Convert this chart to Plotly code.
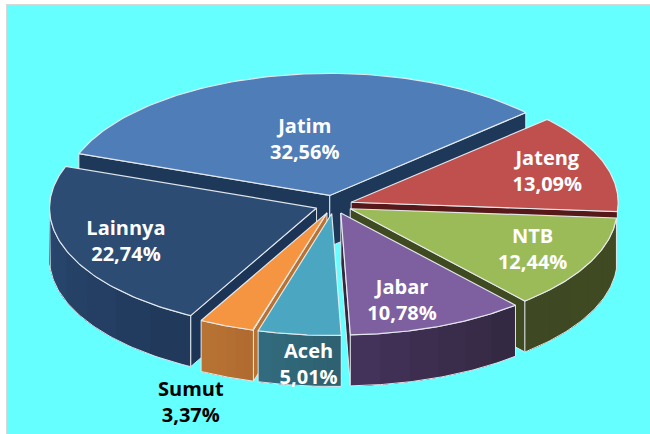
import math
import plotly.graph_objects as go

categories = ["Jatim", "Jateng", "NTB", "Jabar", "Aceh", "Sumut", "Lainnya"]
values = [32.56, 13.09, 12.44, 10.78, 5.01, 3.37, 22.74]
value_labels = ["32,56%", "13,09%", "12,44%", "10,78%", "5,01%", "3,37%", "22,74%"]
pulls = [0.08, 0.068, 0.068, 0.07, 0.07, 0.07, 0.07]

TOP = {"Jatim": "#4F7DB8", "Jateng": "#BF504D", "NTB": "#9BBB59", "Jabar": "#7E60A0",
       "Aceh": "#4BA6C2", "Sumut": "#F59542", "Lainnya": "#2C4C74"}
CUT = {"Jatim": "#1D3859", "Jateng": "#57181A", "NTB": "#3F4A21", "Jabar": "#33293F",
       "Aceh": "#2F6475", "Sumut": "#B9722F", "Lainnya": "#1C3557"}
WALL_A = {"Jatim": "#1D3859", "Jateng": "#57181A", "NTB": "#404A22", "Jabar": "#322840",
          "Aceh": "#2E6070", "Sumut": "#B06A30", "Lainnya": "#203859"}
WALL_B = {"Jatim": "#1D3859", "Jateng": "#57181A", "NTB": "#3E4822", "Jabar": "#45335C",
          "Aceh": "#326C7E", "Sumut": "#B87434", "Lainnya": "#294870"}
LABEL_PLACE = {"Jatim": (0.455, -0.5), "Jateng": (0.774, 0.9), "NTB": (0.765, 0), "Jabar": (0.765, 4),
               "Aceh": (1.25, -3.0), "Sumut": (1.645, -4), "Lainnya": (0.77, -1.1)}
DRAW_ORDER = ["Jatim", "Jateng", "Lainnya", "NTB", "Jabar", "Sumut", "Aceh"]

CX, CY, RX, RY, DEPTH, START = 334, 205, 267, 122, 51, -70
DEPTH_OF = {"Jateng": 10}  # the rest of this wall sits behind its neighbour
EDGE = "rgba(232,236,240,0.95)"


def polar(a, r=1.0):
    t = math.radians(a)
    return RX * r * math.sin(t), -RY * r * math.cos(t)


def mix(c1, c2, f):
    p = [int(c1[i:i + 2], 16) for i in (1, 3, 5)]
    q = [int(c2[i:i + 2], 16) for i in (1, 3, 5)]
    return "rgb(%d,%d,%d)" % tuple(round(a + (b - a) * f) for a, b in zip(p, q))


fig = go.Figure()


def poly(xs, ys, fill, line=None, width=1.0):
    fig.add_trace(go.Scatter(
        x=list(xs) + [xs[0]], y=list(ys) + [ys[0]], mode="lines", fill="toself", fillcolor=fill,
        line=dict(color=line or fill, width=width), hoverinfo="skip", showlegend=False))


total = sum(values)
slices = {}
angle = START
for c, v, p in zip(categories, values, pulls):
    sweep = 360 * v / total
    mid = angle + sweep / 2
    ox, oy = polar(mid, p)
    slices[c] = dict(a0=angle, a1=angle + sweep, mid=mid, tx=CX + ox, ty=CY + oy)
    angle += sweep

for c in DRAW_ORDER:
    s = slices[c]
    tx, ty, a0, a1 = s["tx"], s["ty"], s["a0"], s["a1"]
    depth = DEPTH_OF.get(c, DEPTH)
    # radial cut faces
    for a, is_start in ((a0, True), (a1, False)):
        dx, dy = polar(a)
        if (is_start and dx < 0) or (not is_start and dx > 0):
            poly([tx, tx + dx, tx + dx, tx], [ty, ty + dy, ty + dy + depth, ty + depth], CUT[c], EDGE, 1)
    # outer curved wall, lower half only
    w0, w1 = max(a0, 90), min(a1, 270)
    if w1 > w0 and c not in DEPTH_OF:
        n = 6
        for i in range(n):
            b0 = w0 + (w1 - w0) * i / n
            # each band runs to the wall's end so later bands overlap earlier ones without seams
            pts = [polar(b0 + (w1 - b0) * k / 30) for k in range(31)]
            xs = [tx + q[0] for q in pts] + [tx + q[0] for q in reversed(pts)]
            ys = [ty + q[1] for q in pts] + [ty + q[1] + depth for q in reversed(pts)]
            fig.add_trace(go.Scatter(x=xs + xs[:1], y=ys + ys[:1], mode="none", fill="toself",
                                     fillcolor=mix(WALL_A[c], WALL_B[c], (i + 0.5) / n),
                                     hoverinfo="skip", showlegend=False))
        pts = [polar(w0 + (w1 - w0) * k / 60) for k in range(61)]
        xs = [tx + q[0] for q in pts] + [tx + q[0] for q in reversed(pts)]
        ys = [ty + q[1] for q in pts] + [ty + q[1] + depth for q in reversed(pts)]
        fig.add_trace(go.Scatter(x=xs + xs[:1], y=ys + ys[:1], mode="lines",
                                 line=dict(color=EDGE, width=1), hoverinfo="skip", showlegend=False))
    # top face
    pts = [polar(a0 + (a1 - a0) * k / 80) for k in range(81)]
    poly([tx] + [tx + q[0] for q in pts], [ty] + [ty + q[1] for q in pts], TOP[c], EDGE, 1.2)

for c, lab in zip(categories, value_labels):
    s = slices[c]
    frac, da = LABEL_PLACE[c]
    dx, dy = polar(s["mid"] + da, frac)
    fig.add_trace(go.Scatter(
        x=[s["tx"] + dx], y=[s["ty"] + dy], mode="text", text=[f"{c}<br>{lab}"],
        textposition="middle center",
        textfont=dict(family="Open Sans", size=20, weight="bold",
                      color="black" if c == "Sumut" else "white"),
        hoverinfo="skip", showlegend=False))

axis_style = dict(showticklabels=False, showgrid=False, zeroline=False, ticks="",
                  showline=True, linecolor="#D8D8D8", linewidth=1, fixedrange=True)
fig.update_layout(
    width=650, height=434, margin=dict(l=7, r=0, t=5, b=0),
    paper_bgcolor="white", plot_bgcolor="#66FFFF", showlegend=False,
    xaxis=dict(range=[7, 650], side="top", **axis_style),
    yaxis=dict(range=[434, 5], **axis_style),
)
fig.write_html("out.html", post_script="document.body.style.margin='0';document.body.style.overflow='hidden';",
               config={"displayModeBar": False})
